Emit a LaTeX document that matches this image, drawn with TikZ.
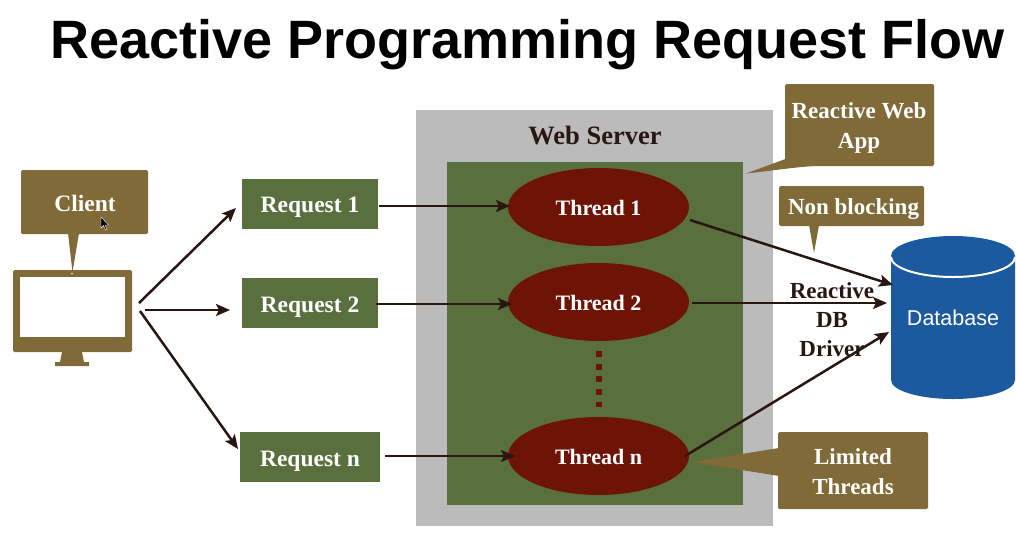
\documentclass[tikz,border=0pt]{standalone}
\usepackage{fontspec}
\setmainfont{Liberation Serif}
\newfontfamily\headfont{Liberation Sans}
\usetikzlibrary{arrows.meta,shapes.geometric}
\definecolor{olive}{HTML}{7F6A38}
\definecolor{leaf}{HTML}{5A6F3E}
\definecolor{blood}{HTML}{6E1406}
\definecolor{ash}{HTML}{BBBBBB}
\definecolor{dbblue}{HTML}{1C5AA0}
\definecolor{ink}{HTML}{2A1610}
\tikzset{
  x=1pt,y=-1pt,
  lab/.style={font=\fontsize{23}{30}\selectfont\bfseries,text=white,align=center,inner sep=0pt},
  reqbox/.style={font=\fontsize{23.5}{30}\selectfont\bfseries,text=white,inner sep=0pt,fill=leaf,minimum width=136pt,minimum height=50pt,text height=18pt,text depth=0pt},
  threadnode/.style={font=\fontsize{22}{30}\selectfont\bfseries,text=white,inner sep=0pt,ellipse,fill=blood,minimum width=181pt,minimum height=78pt,text height=17pt,text depth=0pt},
  callout/.style={fill=olive,rounded corners=1.5pt},
  tail/.style={fill=olive},
  arr/.style={draw=ink,line width=2.5pt,-{Stealth[length=14pt,width=12pt,inset=3pt]}},
  darklab/.style={font=\fontsize{23}{29}\selectfont\bfseries,text=ink,align=center,inner sep=0pt},
}
\begin{document}
\begin{tikzpicture}
\useasboundingbox (0,0) rectangle (1016,542);
\fill[white] (0,0) rectangle (1016,542);
\node[font=\fontsize{54}{60}\selectfont\bfseries\headfont,inner sep=0pt,anchor=base] (title) at (527.5,58) {Reactive Programming Request Flow};
% web server
\node[fill=ash,minimum width=357pt,minimum height=416pt,inner sep=0pt] (server) at (594.5,318) {};
\node[fill=leaf,minimum width=296pt,minimum height=343pt,inner sep=0pt] (app) at (595,333.5) {};
\node[darklab,font=\fontsize{26.5}{30}\selectfont\bfseries] (servertitle) at (595,135) {Web Server};
% requests
\node[reqbox] (r1) at (310,203.5) {Request 1};
\node[reqbox] (r2) at (310,303) {Request 2};
\node[reqbox,minimum width=140pt] (rn) at (310,457) {Request n};
% threads
\node[threadnode] (t1) at (598.5,207) {Thread 1};
\node[threadnode] (t2) at (598.5,302) {Thread 2};
\node[threadnode] (tn) at (598.5,456) {Thread n};
\coordinate (dotsa) at (598.5,351);
\coordinate (dotsb) at (598.5,407);
\draw[blood,line width=6pt,dash pattern=on 6pt off 6.7pt] (dotsa) -- (dotsb);
% client callout
\fill[callout] (21,170) rectangle (148,234);
\fill[tail] (68,233) -- (79,233) -- (72.5,272) -- cycle;
\node[lab,font=\fontsize{23.5}{30}\selectfont\bfseries,text height=17pt,text depth=0pt] (client) at (85,202.5) {Client};
% cursor
\path[fill=black,draw=white,line width=.4pt] (101,217) -- (101,228) -- (103.5,225.5) -- (105.5,230) -- (107,229.3) -- (105,225) -- (108.5,225) -- cycle;
% monitor
\fill[olive,rounded corners=1.5pt] (13,270) rectangle (132,352);
\fill[white] (20,277) rectangle (125,337);
\fill[olive] (62,352) -- (82,352) -- (84,362) -- (89,362) -- (89,366) -- (55,366) -- (55,362) -- (60,362) -- cycle;
\fill[white!80!olive] (72,273.5) circle (1pt);
\node[inner sep=0pt,minimum width=119pt,minimum height=96pt] (mon) at (72.5,318) {};
% other callouts
\fill[callout] (785,84) rectangle (934,166);
\fill[tail] (785.5,159) -- (746,173.5) .. controls (770,171) and (795,167) .. (820,165.5) -- cycle;
\node[lab] (webapp) at (859,127.5) {Reactive Web\\App};
\fill[callout] (779,186) rectangle (924,226);
\fill[tail] (809,225) -- (819,225) -- (814,253) -- cycle;
\node[lab,text height=15pt,text depth=0pt] (nonblock) at (853.5,207) {Non blocking};
\fill[callout] (778,432) rectangle (928,509);
\fill[tail] (779,448) -- (692,462) -- (779,476) -- cycle;
\node[lab] (limited) at (853,472) {Limited\\Threads};
% database
\fill[dbblue] (891,256) arc[x radius=62,y radius=20,start angle=180,end angle=360] -- (1015,380) arc[x radius=62,y radius=19,start angle=0,end angle=180] -- cycle;
\draw[white,line width=2pt] (891,257) arc[x radius=62,y radius=20,start angle=180,end angle=0];
\node[font=\fontsize{21.5}{24}\selectfont\headfont,text=white,inner sep=0pt,minimum width=124pt,minimum height=163pt] (db) at (953,318) {Database};
% driver label
\node[darklab] (driver) at (832,319.5) {Reactive\\DB\\Driver};
% connector ends
\coordinate (mo1) at (139,303);
\coordinate (mo2) at (145,310);
\coordinate (mo3) at (140,311);
\coordinate (ri1) at (236,208);
\coordinate (ri2) at (230,310);
\coordinate (ri3) at (238,449);
\coordinate (ro1) at (379,206);
\coordinate (ti1) at (510,206);
\coordinate (ro2) at (376,304);
\coordinate (ti2) at (512,304);
\coordinate (ro3) at (385,456);
\coordinate (ti3) at (515,456);
\coordinate (to1) at (690,220);
\coordinate (di1) at (893,285);
\coordinate (to2) at (692,303);
\coordinate (di2) at (887,303);
\coordinate (to3) at (685,456);
\coordinate (di3) at (889,332);
\draw[arr] (mo1) -- (ri1);
\draw[arr] (mo2) -- (ri2);
\draw[arr] (mo3) -- (ri3);
\draw[arr] (ro1) -- (ti1);
\draw[arr] (ro2) -- (ti2);
\draw[arr] (ro3) -- (ti3);
\draw[arr] (to1) -- (di1);
\draw[arr] (to2) -- (di2);
\draw[arr] (to3) -- (di3);
\end{tikzpicture}
\end{document}
